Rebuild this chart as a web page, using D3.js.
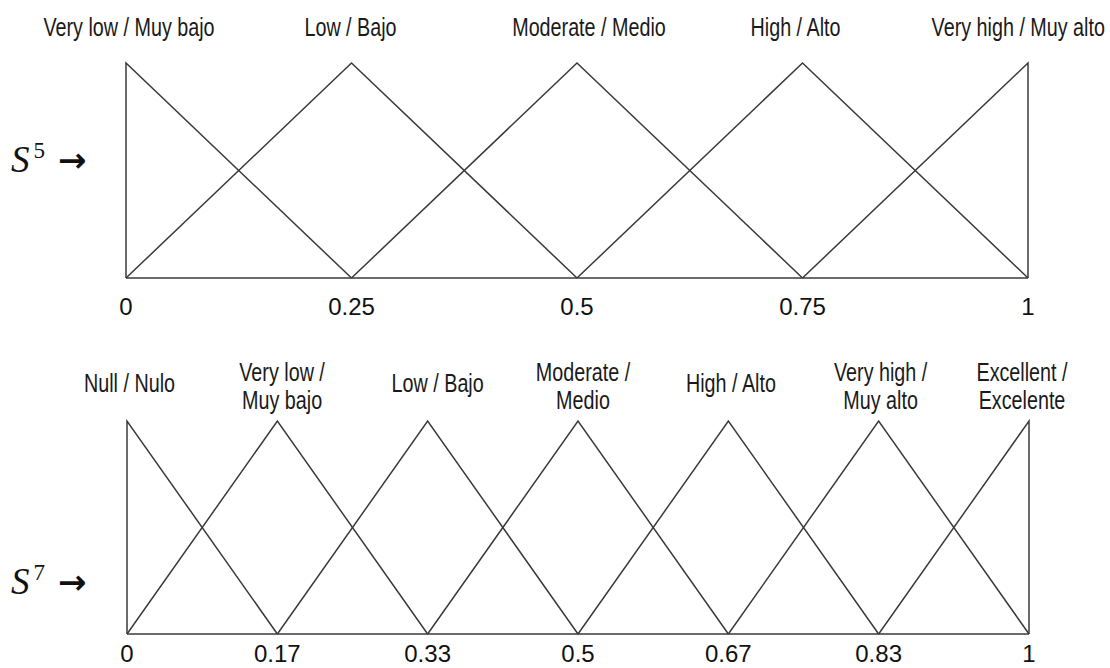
<!DOCTYPE html>
<html><head><meta charset="utf-8">
<script src="https://cdn.jsdelivr.net/npm/d3@7"></script>
<style>
html,body{margin:0;padding:0;background:#fff;}
svg{display:block;}
.lbl{font-family:"Liberation Sans",Arial,sans-serif;font-size:25px;fill:#1a1a1a;}
.tick{font-family:"Liberation Sans",Arial,sans-serif;font-size:24px;fill:#111;}
.sym{font-family:"Liberation Serif","DejaVu Serif",serif;fill:#111;}
</style></head>
<body>
<script>
// ---- data ----
const terms5 = [["Very low / Muy bajo"], ["Low / Bajo"], ["Moderate / Medio"], ["High / Alto"], ["Very high / Muy alto"]];
const peaks5 = [0, 0.25, 0.5, 0.75, 1];
const ticks5 = ["0", "0.25", "0.5", "0.75", "1"];

const terms7 = [["Null / Nulo"], ["Very low /", "Muy bajo"], ["Low / Bajo"], ["Moderate /", "Medio"], ["High / Alto"], ["Very high /", "Muy alto"], ["Excellent /", "Excelente"]];
const peaks7 = [0, 0.1667, 0.3333, 0.5, 0.6667, 0.8333, 1];
const ticks7 = ["0", "0.17", "0.33", "0.5", "0.67", "0.83", "1"];

const W = 1110, H = 668;
const NARROW = 0.79; // horizontal condensing of label font
const svg = d3.select("body").append("svg").attr("width", W).attr("height", H);

function panel(cfg) {
  const x = d3.scaleLinear().domain([0, 1]).range([cfg.x0, cfg.x1]);
  const y = d3.scaleLinear().domain([0, 1]).range([cfg.yb, cfg.yt]);
  const g = svg.append("g");
  const line = d3.line().x(d => x(d[0])).y(d => y(d[1]));
  const p = cfg.peaks;
  p.forEach((c, i) => {
    const pts = [];
    pts.push(i === 0 ? [c, 0] : [p[i - 1], 0]);
    pts.push([c, 1]);
    pts.push(i === p.length - 1 ? [c, 0] : [p[i + 1], 0]);
    g.append("path").attr("d", line(pts)).attr("fill", "none")
      .attr("stroke", "#3a3a3a").attr("stroke-width", 1.5).attr("stroke-linejoin", "miter");
  });
  g.append("path").attr("d", line([[0, 0], [1, 0]])).attr("fill", "none")
    .attr("stroke", "#3a3a3a").attr("stroke-width", 1.6);
  g.selectAll("text.tick").data(cfg.ticks).join("text").attr("class", "tick")
    .attr("x", (d, i) => x(p[i])).attr("y", cfg.tickY)
    .attr("text-anchor", "middle").text(d => d);
  cfg.terms.forEach((lines, i) => {
    const t = g.append("text").attr("class", "lbl").attr("text-anchor", "middle");
    const n = lines.length;
    lines.forEach((s, k) => {
      t.append("tspan").attr("x", 0)
        .attr("y", n === 1 ? cfg.labY1 : cfg.labY2[k]).text(s);
    });
    const bb = t.node().getBBox();
    let cx = x(p[i]) + cfg.nudge[i];
    const half = bb.width * NARROW / 2;
    if (cx + half > W - 5) cx = W - 5 - half;
    t.attr("transform", `translate(${cx},0) scale(${NARROW},1)`);
  });
  const s = svg.append("text").attr("class", "sym").attr("x", 11).attr("y", cfg.symY);
  s.append("tspan").attr("font-style", "italic").attr("font-size", 37).text("S");
  s.append("tspan").attr("font-size", 23).attr("dy", -14).attr("dx", 4).text(cfg.sup);
  s.append("tspan").attr("font-family", "DejaVu Sans").attr("font-size", 34).attr("font-weight", "bold")
    .attr("dy", 14).attr("dx", 13).text("→");
}

panel({x0: 126, x1: 1028, yt: 63, yb: 278, peaks: peaks5, ticks: ticks5, terms: terms5,
  nudge: [3, -1, 12, -7, -7],
  tickY: 315, labY1: 36, labY2: [0, 0], symY: 172, sup: "5"});
panel({x0: 127, x1: 1029, yt: 421, yb: 634, peaks: peaks7, ticks: ticks7, terms: terms7,
  nudge: [2.5, 4.7, 10, 5, 2.6, 2, -7],
  tickY: 662, labY1: 392, labY2: [381, 409], symY: 594, sup: "7"});
</script>
</body></html>
